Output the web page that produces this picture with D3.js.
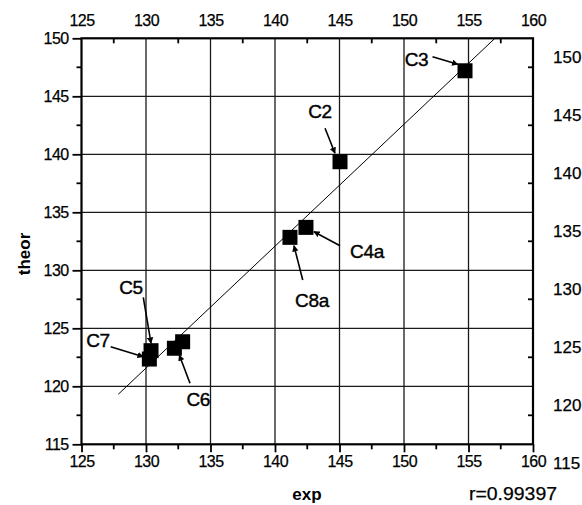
<!DOCTYPE html>
<html>
<head>
<meta charset="utf-8">
<script src="https://cdn.jsdelivr.net/npm/d3@7"></script>
<style>
html,body{margin:0;padding:0;background:#fff;}
svg{display:block;}
text{font-family:"Liberation Sans",Arial,sans-serif;fill:#000;}
</style>
</head>
<body>
<svg id="chart" width="582" height="505"></svg>
<script>
// ---- data ----
const labels = ["C3", "C2", "C4a", "C8a", "C5", "C7", "C6", "C6"];
const expVals = [154.73, 145.04, 142.40, 141.16, 130.39, 130.26, 132.20, 132.84];
const theorVals = [147.20, 139.36, 133.70, 132.84, 123.07, 122.35, 123.28, 123.84];
const tickVals = [125, 130, 135, 140, 145, 150, 155, 160];
const yTickVals = [115, 120, 125, 130, 135, 140, 145, 150];
const fitX = [127.85, 157.05];
const fitY = [119.31, 150.0];
const rText = "r=0.99397";
// annotations (data units)
const annLabels = ["C3", "C2", "C4a", "C8a", "C5", "C7", "C6"];
const annTextX = [150.97, 143.49, 147.13, 142.87, 128.84, 126.28, 134.05];
const annTextY = [148.13, 143.67, 131.66, 127.38, 128.53, 123.91, 118.88];
const annFromX = [152.21, 143.88, 145.04, 142.15, 129.79, 127.26, 133.41];
const annFromY = [148.41, 142.24, 132.12, 129.16, 127.67, 123.41, 120.26];
const annToX = [154.17, 144.65, 143.02, 141.47, 130.39, 129.79, 132.58];
const annToY = [147.76, 140.09, 133.33, 132.12, 123.71, 122.55, 122.70];

const svg = d3.select("#chart");
const x = d3.scaleLinear().domain([125, 160]).range([81.5, 533]);
const y = d3.scaleLinear().domain([115, 150]).range([444.3, 38.3]);
const minorX = d3.range(127.5, 160, 5);
const minorY = d3.range(117.5, 150, 5);

// grid
const g = svg.append("g");
g.selectAll(".vg").data(tickVals.slice(1, -1)).join("line")
  .attr("x1", d => x(d)).attr("x2", d => x(d)).attr("y1", y(150)).attr("y2", y(115))
  .attr("stroke", "#1a1a1a").attr("stroke-width", 1.3);
g.selectAll(".hg").data(yTickVals.slice(1, -1)).join("line")
  .attr("y1", d => y(d)).attr("y2", d => y(d)).attr("x1", x(125)).attr("x2", x(160))
  .attr("stroke", "#1a1a1a").attr("stroke-width", 1.3);

// axes
const fmt = d3.format("d");
const axB = d3.axisBottom(x).tickValues(tickVals).tickFormat(fmt).tickSize(8).tickPadding(3);
const axT = d3.axisTop(x).tickValues(tickVals).tickFormat(fmt).tickSize(0).tickPadding(12);
const axL = d3.axisLeft(y).tickValues(yTickVals).tickFormat(fmt).tickSize(9).tickPadding(4);
const axR = d3.axisRight(y).tickValues(yTickVals).tickFormat(fmt).tickSize(0).tickPadding(20);

function style(sel) {
  sel.select(".domain").remove();
  sel.selectAll("line").attr("stroke", "#000").attr("stroke-width", 1.8);
  sel.selectAll("text").style("font-family", "'Liberation Sans', Arial, sans-serif")
    .style("font-size", "16px").attr("fill", "#000").style("letter-spacing", "-0.6px")
    .attr("stroke", "#000").attr("stroke-width", 0.25);
}
svg.append("g").attr("transform", `translate(0,${y(115)})`).call(axB).call(style);
svg.append("g").attr("transform", `translate(0,${y(150)})`).call(axT).call(style);
svg.append("g").attr("transform", `translate(${x(125)},0)`).call(axL).call(style);
const gr = svg.append("g").attr("transform", `translate(${x(160)},0)`).call(axR).call(style);
gr.selectAll("text").attr("dy", "1.4em").attr("x", 20)
  .style("letter-spacing", "0px").style("font-size", "17px");

// minor ticks
svg.append("g").selectAll("line").data(minorX).join("line")
  .attr("x1", d => x(d)).attr("x2", d => x(d)).attr("y1", y(115)).attr("y2", y(115) + 5)
  .attr("stroke", "#000").attr("stroke-width", 1.8);
svg.append("g").selectAll("line").data(minorX).join("line")
  .attr("x1", d => x(d)).attr("x2", d => x(d)).attr("y1", y(150)).attr("y2", y(150) + 5)
  .attr("stroke", "#000").attr("stroke-width", 1.8);
svg.append("g").selectAll("line").data(minorY).join("line")
  .attr("y1", d => y(d)).attr("y2", d => y(d)).attr("x1", x(125) - 5).attr("x2", x(125))
  .attr("stroke", "#000").attr("stroke-width", 1.8);
svg.append("g").selectAll("line").data(minorY).join("line")
  .attr("y1", d => y(d)).attr("y2", d => y(d)).attr("x1", x(160) - 5).attr("x2", x(160))
  .attr("stroke", "#000").attr("stroke-width", 1.8);

// frame
svg.append("rect").attr("x", x(125)).attr("y", y(150))
  .attr("width", x(160) - x(125)).attr("height", y(115) - y(150))
  .attr("fill", "none").attr("stroke", "#000").attr("stroke-width", 2.2);

// fit line
svg.append("line")
  .attr("x1", x(fitX[0])).attr("y1", y(fitY[0])).attr("x2", x(fitX[1])).attr("y2", y(fitY[1]))
  .attr("stroke", "#000").attr("stroke-width", 1);

// points
const sz = 15;
svg.append("g").selectAll("rect").data(expVals).join("rect")
  .attr("x", (d, i) => x(d) - sz / 2).attr("y", (d, i) => y(theorVals[i]) - sz / 2)
  .attr("width", sz).attr("height", sz).attr("fill", "#000");

// arrows
svg.append("defs").append("marker").attr("id", "ah")
  .attr("viewBox", "0 0 10 10").attr("refX", 9).attr("refY", 5)
  .attr("markerWidth", 4).attr("markerHeight", 4).attr("orient", "auto")
  .append("path").attr("d", "M0,0L10,5L0,10z").attr("fill", "#000");
svg.append("g").selectAll("line").data(annLabels).join("line")
  .attr("x1", (d, i) => x(annFromX[i])).attr("y1", (d, i) => y(annFromY[i]))
  .attr("x2", (d, i) => x(annToX[i])).attr("y2", (d, i) => y(annToY[i]))
  .attr("stroke", "#000").attr("stroke-width", 1.6).attr("marker-end", "url(#ah)");
svg.append("g").selectAll("text").data(annLabels).join("text")
  .attr("x", (d, i) => x(annTextX[i])).attr("y", (d, i) => y(annTextY[i]))
  .attr("text-anchor", "middle").attr("dominant-baseline", "central")
  .style("font-size", "19px").style("letter-spacing", "-0.3px")
  .attr("stroke", "#000").attr("stroke-width", 0.4).text(d => d);

// titles
svg.append("text").attr("x", 307).attr("y", 500).attr("text-anchor", "middle")
  .style("font-size", "17px").style("font-weight", "bold").text("exp");
svg.append("text").attr("transform", "translate(30,254) rotate(-90)").attr("text-anchor", "middle")
  .style("font-size", "17px").style("font-weight", "bold").text("theor");
svg.append("text").attr("x", 469).attr("y", 500)
  .attr("textLength", 88).attr("lengthAdjust", "spacingAndGlyphs")
  .style("font-size", "18px").attr("stroke", "#000").attr("stroke-width", 0.25).text(rText);
</script>
</body>
</html>
